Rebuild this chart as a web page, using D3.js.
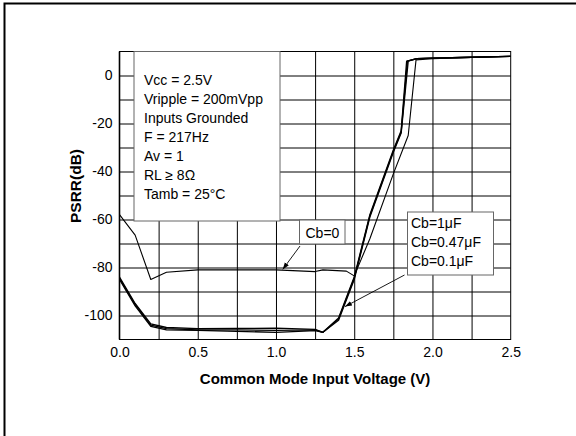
<!DOCTYPE html>
<html>
<head>
<meta charset="utf-8">
<script src="https://cdn.jsdelivr.net/npm/d3@7"></script>
<style>
  body { margin: 0; background: #fff; }
  text { font-family: "Liberation Sans", Arial, sans-serif; fill: #000; }
</style>
</head>
<body>
<div id="chart"></div>
<script>
// data
var cb0Volt   = [0, 0.1, 0.2, 0.3, 0.5, 0.75, 1.0, 1.25, 1.3, 1.45, 1.5, 1.6, 1.75, 1.845, 1.895, 2.0, 2.25, 2.5];
var cb0Psrr   = [-58, -66.5, -85, -82, -81, -81, -81, -81.7, -81, -81.5, -83.5, -68, -41, -25, 6.5, 7, 7.5, 8];

var cb1Volt   = [0, 0.1, 0.2, 0.3, 0.5, 0.75, 1.0, 1.25, 1.3, 1.4, 1.5, 1.6, 1.75, 1.8, 1.835, 1.9, 2.0, 2.25, 2.5];
var cb1Psrr   = [-84, -95, -103.5, -105, -105.5, -105.4, -105.3, -105.8, -107, -101, -84, -58, -31, -23, 6, 7, 7.2, 7.6, 8];

var cb047Volt = [0, 0.1, 0.2, 0.3, 0.5, 0.75, 1.0, 1.25, 1.3, 1.4, 1.5, 1.6, 1.75, 1.8, 1.84, 1.9, 2.0, 2.25, 2.5];
var cb047Psrr = [-84.5, -95.5, -104, -105.5, -106, -106, -106.2, -106, -107, -101.5, -84.5, -58.5, -31.5, -23.5, 6, 7, 7.2, 7.6, 8];

var cb01Volt  = [0, 0.1, 0.2, 0.3, 0.5, 0.75, 1.0, 1.25, 1.3, 1.4, 1.5, 1.6, 1.75, 1.8, 1.845, 1.9, 2.0, 2.25, 2.5];
var cb01Psrr  = [-85, -96, -104.5, -106, -106.2, -106.6, -107, -106.3, -107, -102, -85, -59, -32, -24, 6, 7, 7.2, 7.6, 8];

var xTicks = [0, 0.5, 1.0, 1.5, 2.0, 2.5];
var yTicks = [-100, -80, -60, -40, -20, 0];

var condLines = ["Vcc = 2.5V", "Vripple = 200mVpp", "Inputs Grounded", "F = 217Hz",
                 "Av = 1", "RL \u2265 8\u03A9", "Tamb = 25\u00B0C"];
var cbLines = ["Cb=1\u03BCF", "Cb=0.47\u03BCF", "Cb=0.1\u03BCF"];

var W = 576, H = 436;
var margin = { top: 51.5, right: 65.3, bottom: 96.5, left: 119.5 },
    width = W - margin.left - margin.right,
    height = H - margin.top - margin.bottom;

var svg = d3.select("#chart").append("svg")
    .attr("width", W)
    .attr("height", H);

// outer frame (left + top only)
svg.append("path")
    .attr("d", "M4.5,436 L4.5,3.5 L576,3.5")
    .attr("fill", "none")
    .attr("stroke", "#000")
    .attr("stroke-width", 2);

var g = svg.append("g")
    .attr("transform", "translate(" + margin.left + "," + margin.top + ")");

var x = d3.scaleLinear().domain([0, 2.5]).range([0, width]);
var y = d3.scaleLinear().domain([-110, 10]).range([height, 0]);

// grid
g.append("g")
    .attr("class", "grid")
    .attr("transform", "translate(0," + height + ")")
    .call(d3.axisBottom(x).tickValues(d3.range(0.25, 2.5, 0.25)).tickSize(-height).tickFormat(""))
    .call(function (s) { s.select(".domain").remove(); });
g.append("g")
    .attr("class", "grid")
    .call(d3.axisLeft(y).tickValues(d3.range(-100, 10, 10)).tickSize(-width).tickFormat(""))
    .call(function (s) { s.select(".domain").remove(); });
g.selectAll(".grid line").attr("stroke", "#000").attr("stroke-width", 1);

g.append("rect")
    .attr("width", width)
    .attr("height", height)
    .attr("fill", "none")
    .attr("stroke", "#000")
    .attr("stroke-width", 1);
g.append("line")
    .attr("y2", height)
    .attr("stroke", "#000")
    .attr("stroke-width", 1.6);

// axes labels (plain hyphen minus, as in the original)
var xAxis = g.append("g")
    .attr("transform", "translate(0," + height + ")")
    .call(d3.axisBottom(x).tickValues(xTicks).tickSize(0).tickPadding(8)
        .tickFormat(function (d) { return d.toFixed(1); }));
var yAxis = g.append("g")
    .call(d3.axisLeft(y).tickValues(yTicks).tickSize(0).tickPadding(7)
        .tickFormat(function (d) { return String(d); }));
[xAxis, yAxis].forEach(function (a) {
    a.select(".domain").remove();
    a.selectAll("text")
        .attr("font-family", "'Liberation Sans', Arial, sans-serif")
        .attr("font-size", 14)
        .attr("fill", "#000");
});

svg.append("text")
    .attr("x", margin.left + width / 2)
    .attr("y", 383.5)
    .attr("text-anchor", "middle")
    .attr("font-size", 15)
    .attr("font-weight", "bold")
    .text("Common Mode Input Voltage (V)");

svg.append("text")
    .attr("transform", "translate(81,186) rotate(-90)")
    .attr("text-anchor", "middle")
    .attr("font-size", 15.5)
    .attr("font-weight", "bold")
    .text("PSRR(dB)");

// conditions box
var condBox = g.append("g").attr("transform", "translate(14.5,0)");
condBox.append("rect")
    .attr("width", 146)
    .attr("height", 169.5)
    .attr("fill", "#fff")
    .attr("stroke", "#666")
    .attr("stroke-width", 1);
condBox.selectAll("text")
    .data(condLines)
    .enter().append("text")
    .attr("x", 10)
    .attr("y", function (d, i) { return 33.5 + i * 19; })
    .attr("font-size", 14)
    .text(function (d) { return d; });

// curves
var line = d3.line()
    .x(function (d) { return x(d[0]); })
    .y(function (d) { return y(d[1]); });

var series = [
    { v: cb0Volt, p: cb0Psrr, w: 1.1 },
    { v: cb1Volt, p: cb1Psrr, w: 1.3 },
    { v: cb047Volt, p: cb047Psrr, w: 1.3 },
    { v: cb01Volt, p: cb01Psrr, w: 1.3 }
];
g.selectAll(".curve")
    .data(series)
    .enter().append("path")
    .attr("class", "curve")
    .attr("fill", "none")
    .attr("stroke", "#000")
    .attr("stroke-width", function (d) { return d.w; })
    .attr("stroke-linejoin", "round")
    .attr("d", function (d) { return line(d3.zip(d.v, d.p)); });

// arrow marker
svg.append("defs").append("marker")
    .attr("id", "arr")
    .attr("viewBox", "0 0 10 10")
    .attr("refX", 10).attr("refY", 5)
    .attr("markerWidth", 7).attr("markerHeight", 7)
    .attr("markerUnits", "userSpaceOnUse")
    .attr("orient", "auto")
    .append("path")
    .attr("d", "M0,1.5 L10,5 L0,8.5 Z")
    .attr("fill", "#000");

function labelBox(bx, by, bw, bh, lines, tx, tyFirst, ax, ay, tipV, tipP) {
    g.append("line")
        .attr("x1", ax).attr("y1", ay)
        .attr("x2", x(tipV)).attr("y2", y(tipP))
        .attr("stroke", "#000")
        .attr("stroke-width", 0.9)
        .attr("marker-end", "url(#arr)");
    g.append("rect")
        .attr("x", bx).attr("y", by)
        .attr("width", bw).attr("height", bh)
        .attr("fill", "#fff")
        .attr("stroke", "#666")
        .attr("stroke-width", 1);
    g.selectAll(null)
        .data(lines)
        .enter().append("text")
        .attr("x", tx)
        .attr("y", function (d, i) { return tyFirst + i * 19; })
        .attr("font-size", 14)
        .text(function (d) { return d; });
}

labelBox(180, 168.5, 45.5, 24, ["Cb=0"], 186, 186, 180.5, 194.5, 1.043, -80.8);
labelBox(288, 160.5, 86, 63, cbLines, 291.5, 176, 285, 223.5, 1.441, -96.3);
</script>
</body>
</html>
